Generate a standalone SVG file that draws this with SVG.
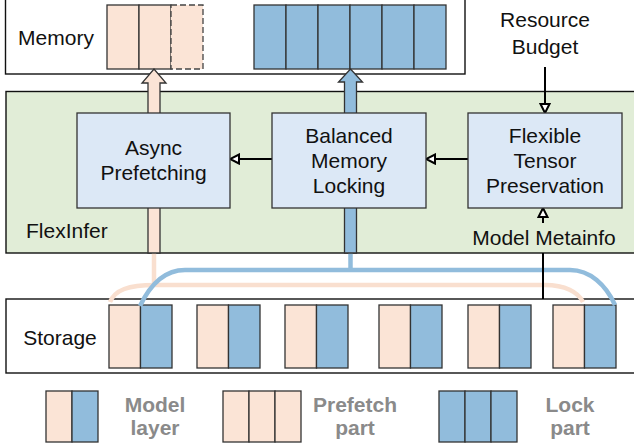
<svg xmlns="http://www.w3.org/2000/svg" width="634" height="448" viewBox="0 0 634 448">
  <style>
    text { font-family: "Liberation Sans", Arial, sans-serif; font-size: 21px; fill: #111; }
    .mid { text-anchor: middle; }
    .legend { font-weight: bold; fill: #8a8a8a; text-anchor: middle; }
    .frame { fill: #fff; stroke: #111; stroke-width: 1.4; }
    .stage { fill: #e1edd7; stroke: #111; stroke-width: 1.4; }
    .proc { fill: #dce8f6; stroke: #333; stroke-width: 1.3; }
    .pink { fill: #fbe4d6; stroke: #333; stroke-width: 1.3; }
    .blue { fill: #91bcdc; stroke: #333; stroke-width: 1.3; }
    .dash { fill: #fbe4d6; stroke: #444; stroke-width: 1.3; stroke-dasharray: 6 3; }
    .ctl { fill: none; stroke: #000; stroke-width: 2; }
    .pflow { fill: none; stroke: #f9dfcf; stroke-width: 4.5; }
    .bflow { fill: none; stroke: #91bcdc; stroke-width: 4.5; }
  </style>
  <defs>
    <marker id="open-head" viewBox="0 0 12 12" refX="10.5" refY="6" markerWidth="12" markerHeight="12" markerUnits="userSpaceOnUse" orient="auto">
      <path d="M1.5,1.5 L10.5,6 L1.5,10.5 Z" fill="#fff" stroke="#000" stroke-width="2"/>
    </marker>
    <!-- one storage layer: prefetch half + lock half -->
    <g id="layer">
      <rect class="pink" x="0" y="0" width="31.5" height="63"/>
      <rect class="blue" x="31.5" y="0" width="31.5" height="63"/>
    </g>
  </defs>

  <!-- Memory -->
  <g id="memory">
    <rect class="frame" x="5.5" y="-1" width="459.5" height="75"/>
    <text x="56" y="45" class="mid">Memory</text>
    <rect class="pink" x="107" y="5" width="32" height="64"/>
    <rect class="pink" x="139" y="5" width="32" height="64"/>
    <rect class="dash" x="171" y="5" width="32" height="64"/>
    <rect class="blue" x="254" y="5" width="32" height="64"/>
    <rect class="blue" x="286" y="5" width="32" height="64"/>
    <rect class="blue" x="318" y="5" width="32" height="64"/>
    <rect class="blue" x="350" y="5" width="32" height="64"/>
    <rect class="blue" x="382" y="5" width="32" height="64"/>
    <rect class="blue" x="414" y="5" width="32" height="64"/>
  </g>

  <!-- FlexInfer runtime -->
  <g id="flexinfer">
    <rect class="stage" x="6" y="91.5" width="640" height="161.5"/>
    <text x="26" y="238">FlexInfer</text>
  </g>

  <!-- Storage -->
  <g id="storage">
    <rect class="frame" x="6" y="299" width="640" height="74"/>
    <text x="60" y="345" class="mid">Storage</text>
    <use href="#layer" x="109" y="305"/>
    <use href="#layer" x="197" y="305"/>
    <use href="#layer" x="285" y="305"/>
    <use href="#layer" x="379" y="305"/>
    <use href="#layer" x="468" y="305"/>
    <use href="#layer" x="553" y="305"/>
  </g>

  <g id="connectors">
    <!-- data paths from storage up to the runtime -->
    <path class="pflow" d="M154,253 V285"/>
    <path class="pflow" d="M110,302 C115,290 128,285 155,285 L545,285 C565,285 578,292 583,302"/>
    <path class="bflow" d="M350.5,253 V270"/>
    <path class="bflow" d="M140,306 C150,285 165,270 185,270 L570,270 C590,270 606,285 615,305"/>
    <!-- wide transfer arrows into memory -->
    <path class="pink" d="M148,253 V83 H142 L154,69 L166,83 H160 V253 Z"/>
    <path class="blue" d="M344.5,253 V82 H338.5 L350.5,69 L362.5,82 H356.5 V253 Z"/>
    <!-- control arrows -->
    <path class="ctl" d="M545,67 V113" marker-end="url(#open-head)"/>
    <path class="ctl" d="M272,159 H230" marker-end="url(#open-head)"/>
    <path class="ctl" d="M468,159 H426" marker-end="url(#open-head)"/>
    <path class="ctl" d="M543,223 V208" marker-end="url(#open-head)"/>
    <path class="ctl" d="M543,253 V299"/>
  </g>

  <g id="async-prefetching">
    <rect class="proc" x="77" y="113" width="153" height="95"/>
    <text x="153.5" y="155" class="mid">Async</text>
    <text x="153.5" y="180" class="mid">Prefetching</text>
  </g>

  <g id="balanced-memory-locking">
    <rect class="proc" x="272" y="113" width="154" height="95"/>
    <text x="349" y="142.5" class="mid">Balanced</text>
    <text x="349" y="167.5" class="mid">Memory</text>
    <text x="349" y="192.5" class="mid">Locking</text>
  </g>

  <g id="flexible-tensor-preservation">
    <rect class="proc" x="468" y="113" width="154" height="95"/>
    <text x="545" y="142.5" class="mid">Flexible</text>
    <text x="545" y="167.5" class="mid">Tensor</text>
    <text x="545" y="192.5" class="mid">Preservation</text>
  </g>

  <g id="resource-budget">
    <text x="545" y="26.5" class="mid">Resource</text>
    <text x="545" y="54" class="mid">Budget</text>
  </g>

  <g id="model-metainfo">
    <text x="544" y="245" class="mid">Model Metainfo</text>
  </g>

  <!-- Legend -->
  <g id="legend-model-layer">
    <rect class="pink" x="46" y="391" width="26" height="51"/>
    <rect class="blue" x="72" y="391" width="26" height="51"/>
    <text x="155" y="412" class="legend">Model</text>
    <text x="155" y="435" class="legend">layer</text>
  </g>
  <g id="legend-prefetch-part">
    <rect class="pink" x="223" y="391" width="26" height="51"/>
    <rect class="pink" x="249" y="391" width="26" height="51"/>
    <rect class="pink" x="275" y="391" width="26" height="51"/>
    <text x="355" y="412" class="legend">Prefetch</text>
    <text x="355" y="435" class="legend">part</text>
  </g>
  <g id="legend-lock-part">
    <rect class="blue" x="439" y="391" width="26" height="51"/>
    <rect class="blue" x="465" y="391" width="26" height="51"/>
    <rect class="blue" x="491" y="391" width="26" height="51"/>
    <text x="570" y="412" class="legend">Lock</text>
    <text x="570" y="435" class="legend">part</text>
  </g>
</svg>
